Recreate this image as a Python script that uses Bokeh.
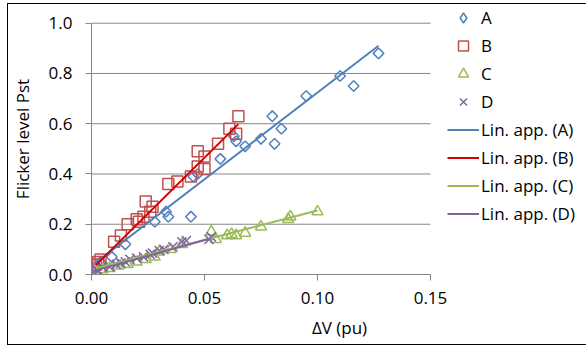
import numpy as np
from bokeh.plotting import figure
from bokeh.models import (Range1d, FixedTicker, Legend, LegendItem, NumeralTickFormatter,
                          InlineStyleSheet)
from bokeh.embed import file_html
from bokeh.resources import INLINE

# ---- data ----
a_x = [0.002, 0.004, 0.009, 0.015, 0.028, 0.033, 0.034, 0.044, 0.045, 0.047, 0.057,
       0.063, 0.064, 0.068, 0.075, 0.080, 0.081, 0.084, 0.095, 0.110, 0.116, 0.127]
a_y = [0.03, 0.05, 0.07, 0.12, 0.21, 0.25, 0.23, 0.23, 0.39, 0.40, 0.46,
       0.55, 0.53, 0.51, 0.54, 0.63, 0.52, 0.58, 0.71, 0.79, 0.75, 0.88]

b_x = [0.002, 0.003, 0.004, 0.010, 0.013, 0.016, 0.020, 0.021, 0.023, 0.024, 0.026, 0.027,
       0.034, 0.038, 0.044, 0.047, 0.047, 0.050, 0.050, 0.056, 0.061, 0.064, 0.065]
b_y = [0.04, 0.05, 0.06, 0.13, 0.155, 0.20, 0.22, 0.21, 0.23, 0.29, 0.25, 0.27,
       0.36, 0.37, 0.39, 0.43, 0.49, 0.42, 0.47, 0.52, 0.58, 0.56, 0.63]

c_x = [0.002, 0.005, 0.008, 0.012, 0.016, 0.020, 0.024, 0.028, 0.030, 0.035, 0.040,
       0.053, 0.055, 0.060, 0.062, 0.064, 0.068, 0.075, 0.087, 0.088, 0.100]
c_y = [0.01, 0.02, 0.025, 0.035, 0.04, 0.05, 0.06, 0.07, 0.09, 0.10, 0.12,
       0.17, 0.14, 0.155, 0.16, 0.155, 0.165, 0.19, 0.22, 0.23, 0.25]

d_x = [0.001, 0.002, 0.003, 0.005, 0.008, 0.011, 0.013, 0.015, 0.017, 0.020,
       0.023, 0.026, 0.027, 0.030, 0.032, 0.036, 0.040, 0.042, 0.052, 0.053]
d_y = [0.01, 0.02, 0.015, 0.03, 0.03, 0.04, 0.045, 0.05, 0.06, 0.065,
       0.07, 0.08, 0.085, 0.095, 0.10, 0.11, 0.13, 0.135, 0.14, 0.15]

# linear approximations (slope, intercept)
fit_a = (6.9, 0.034)
fit_b = (8.9, 0.02)
fit_c = (2.35, 0.02)
fit_d = (2.5, 0.012)

x_ticks = [0.0, 0.05, 0.10, 0.15]
y_ticks = [0.0, 0.2, 0.4, 0.6, 0.8, 1.0]

series_names = ["A", "B", "C", "D"]
fit_names = ["Lin. app. (A)", "Lin. app. (B)", "Lin. app. (C)", "Lin. app. (D)"]

# ---- layout (pixels) ----
FIG_W, FIG_H = 579, 342
LEFT, BOTTOM = 83, 71
FRAME_W, FRAME_H = FIG_W - LEFT, FIG_H - BOTTOM
PX_PER_X = 2260.0     # pixels per unit of ΔV
PX_PER_Y = 251.3      # pixels per unit of Pst
X_MIN, X_MAX = x_ticks[0], x_ticks[-1]
Y_MIN, Y_MAX = y_ticks[0], y_ticks[-1]

# ---- styling ----
FONT = "Open Sans"
GREY = "#868686"
col_a, col_b, col_c, col_d = "#4F81BD", "#C0504D", "#9BBB59", "#8064A2"
line_b = "#D40000"

border_css = InlineStyleSheet(css="""
:host { position: relative; }
:host::after {
  content: "";
  position: absolute;
  left: 0; top: 0; right: 0; bottom: 0;
  border-left: 1px solid #000000;
  border-top: 1px solid #000000;
  border-bottom: 1px solid #000000;
  pointer-events: none;
  z-index: 1000;
}
""")

p = figure(frame_width=FRAME_W, frame_height=FRAME_H,
           min_border_left=LEFT, min_border_top=0, min_border_bottom=BOTTOM, min_border_right=0,
           x_range=Range1d(X_MIN, X_MIN + FRAME_W / PX_PER_X),
           y_range=Range1d(Y_MIN, Y_MIN + FRAME_H / PX_PER_Y),
           output_backend="svg", toolbar_location=None)
p.styles = {"margin-left": "7px", "margin-top": "3px"}
p.stylesheets = [border_css]
p.outline_line_color = None
p.background_fill_color = "white"
p.border_fill_color = "white"

p.xgrid.grid_line_color = None
p.ygrid.grid_line_color = None

for ax in (p.xaxis[0], p.yaxis[0]):
    ax.axis_line_color = GREY
    ax.major_tick_line_color = GREY
    ax.major_tick_in = 0
    ax.major_tick_out = 6
    ax.minor_tick_line_color = None
    ax.major_label_text_font = FONT
    ax.major_label_text_font_size = "17px"
    ax.major_label_text_color = "#000000"
    ax.axis_label_text_font = FONT
    ax.axis_label_text_font_size = "17px"
    ax.axis_label_text_font_style = "normal"
    ax.axis_label_text_color = "#000000"

p.xaxis.bounds = (X_MIN, X_MAX)
p.yaxis.bounds = (Y_MIN, Y_MAX)
p.xaxis.ticker = FixedTicker(ticks=x_ticks)
p.yaxis.ticker = FixedTicker(ticks=y_ticks)
p.xaxis.formatter = NumeralTickFormatter(format="0.00")
p.yaxis.formatter = NumeralTickFormatter(format="0.0")
p.xaxis.axis_label = "ΔV (pu)"
p.yaxis.axis_label = "Flicker level Pst"
p.xaxis.major_label_standoff = 11
p.yaxis.major_label_standoff = 13
p.xaxis.axis_label_standoff = 9
p.yaxis.axis_label_standoff = 12

# horizontal gridlines limited to the plot area
grid_y = [t for t in y_ticks if t > Y_MIN]
p.segment(x0=[X_MIN] * len(grid_y), x1=[X_MAX] * len(grid_y), y0=grid_y, y1=grid_y,
          line_color=GREY, line_width=1)

r_a = p.scatter(a_x, a_y, marker="square", angle=np.pi / 4, size=7.5,
                line_color=col_a, line_width=1.5, fill_color=None)
r_b = p.scatter(b_x, b_y, marker="square", size=11,
                line_color=col_b, line_width=1.5, fill_color=None)
r_c = p.scatter(c_x, c_y, marker="triangle", size=11,
                line_color=col_c, line_width=1.5, fill_color=None)
r_d = p.scatter(d_x, d_y, marker="x", size=13,
                line_color=col_d, line_width=1.5)

# legend-only symbol for series A (legend glyphs are never rotated):
# muted, with an invisible muted glyph, so it draws nothing in the plot area
r_a_key = p.scatter(a_x, a_y, marker="diamond", size=12,
                    line_color=col_a, line_width=1.5, fill_color=None,
                    muted_line_alpha=0, muted_fill_alpha=0)
r_a_key.muted = True

fit_renderers = []
for xs, fit, col in ((a_x, fit_a, col_a), (b_x, fit_b, line_b),
                     (c_x, fit_c, col_c), (d_x, fit_d, col_d)):
    x0, x1 = min(xs), max(xs)
    lx = [x0, x1]
    ly = [fit[0] * x0 + fit[1], fit[0] * x1 + fit[1]]
    fit_renderers.append(p.line(lx, ly, line_color=col, line_width=2))

items = [LegendItem(label=n, renderers=[r]) for n, r in zip(series_names, [r_a_key, r_b, r_c, r_d])]
items += [LegendItem(label=n, renderers=[r]) for n, r in zip(fit_names, fit_renderers)]

legend = Legend(items=items, location=(356, 48))
legend.label_text_font = FONT
legend.label_text_font_size = "17px"
legend.label_text_color = "#000000"
legend.glyph_width = 32
legend.glyph_height = 25
legend.label_height = 20
legend.spacing = 3
legend.padding = 0
legend.margin = 0
legend.label_standoff = 2
legend.border_line_color = None
legend.background_fill_alpha = 0
p.add_layout(legend)

open("out.html", "w").write(file_html(p, INLINE))
